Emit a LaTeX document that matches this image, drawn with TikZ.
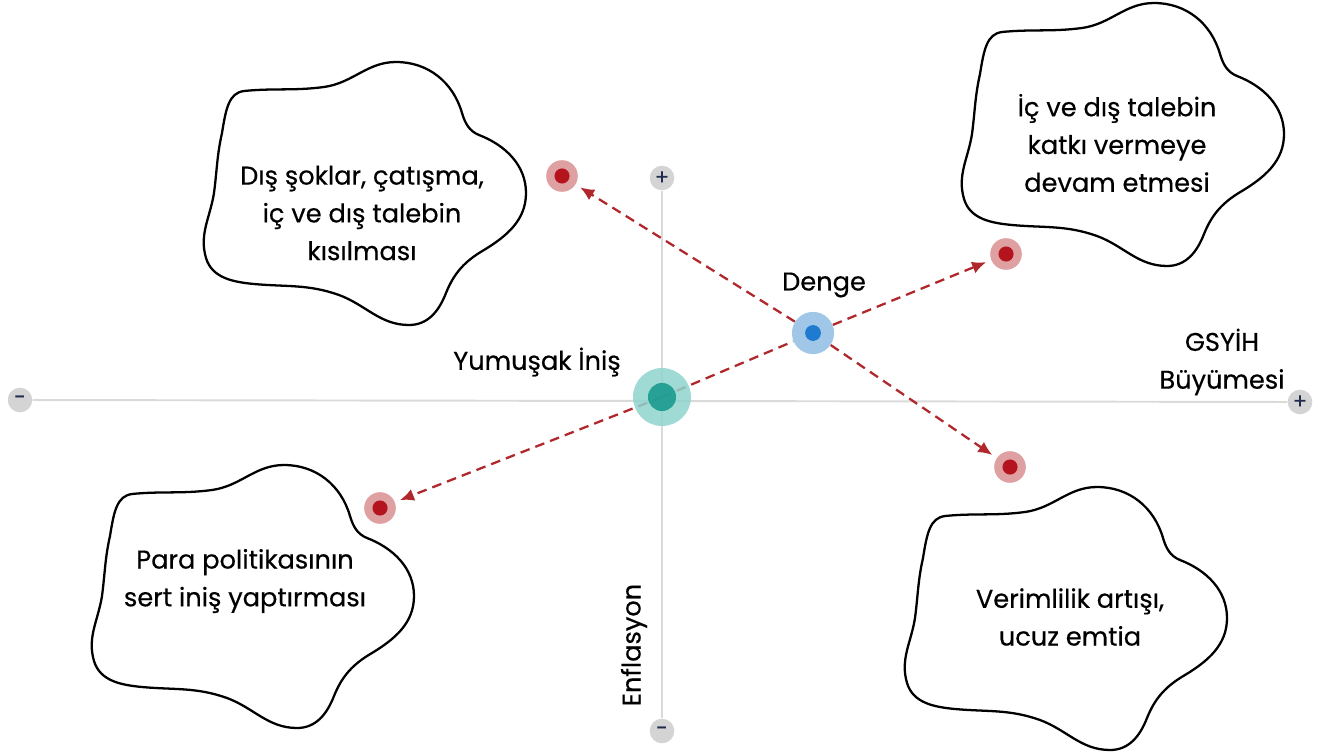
\documentclass[tikz,border=0pt]{standalone}
\usepackage{fontspec}
\setmainfont[FakeBold=0.4]{Poppins}
\usetikzlibrary{arrows.meta,backgrounds}
\definecolor{axisgray}{HTML}{DADADA}
\definecolor{endgray}{HTML}{D4D4D4}
\definecolor{signblue}{HTML}{1F2C4C}
\definecolor{arrred}{HTML}{B0282B}
\definecolor{ptred}{HTML}{B3141E}
\definecolor{ptredlt}{HTML}{DFA0A2}
\definecolor{tealdk}{HTML}{13978A}
\definecolor{teallt}{HTML}{82CFC7}
\definecolor{bluedk}{HTML}{1E7BD0}
\definecolor{bluelt}{HTML}{A0C6E8}
\begin{document}
\begin{tikzpicture}[x=0.02cm, y=-0.02cm, font=\fontsize{14.6}{21.5}\selectfont,
    axisln/.style={axisgray, line width=1.1pt},
    endpt/.style={circle, fill=endgray, minimum size=14pt, inner sep=0pt, text=signblue, font=\fontsize{12}{12}\selectfont},
    dot/.style n args={4}{circle, fill=#1, minimum size=#3, inner sep=0pt,
      path picture={\fill[#2] (path picture bounding box.center) circle (#4);}},
    mvline/.style={arrred, line width=1.3pt, dash pattern=on 5.5pt off 3.5pt},
    mvarrow/.style={mvline, -{Latex[length=8pt,width=7pt]}, shorten >=3pt},
    blobtxt/.style={align=center}]
  \useasboundingbox (0,0) rectangle (1344,753);
  % clouds
  \foreach \cx/\cy in {364/193, 1122/134, 252/596, 1065/618} {
    \draw[line width=1.3pt, shift={(\cx,\cy)}] (-120,-102)
      .. controls (-90,-105) and (-70,-102) .. (-40,-106)
      .. controls (-11,-110) and (3,-131) .. (32,-131)
      .. controls (64,-131) and (89,-111) .. (98,-80)
      .. controls (101,-70) and (105,-62) .. (115,-58)
      .. controls (141,-48) and (162,-28) .. (162,0)
      .. controls (162,27) and (143,43) .. (120,57)
      .. controls (101,68) and (90,80) .. (82,100)
      .. controls (75,118) and (64,132) .. (45,132)
      .. controls (16,132) and (2,112) .. (-25,102)
      .. controls (-56,91) and (-77,94) .. (-110,91)
      .. controls (-131,89) and (-152,85) .. (-158,65)
      .. controls (-165,41) and (-154,25) .. (-150,0)
      .. controls (-147,-23) and (-147,-38) .. (-142,-60)
      .. controls (-138,-85) and (-135,-100) .. cycle;
  }
  \node[blobtxt] (tShock) at (362,213) {Dış şoklar, çatışma,\\iç ve dış talebin\\kısılması};
  \node[blobtxt] (tDemand) at (1117,143) {İç ve dış talebin\\katkı vermeye\\devam etmesi};
  \node[blobtxt] (tPolicy) at (245,581) {Para politikasının\\sert iniş yaptırması};
  \node[blobtxt] (tProd) at (1070,617) {Verimlilik artışı,\\ucuz emtia};
  % axis ends
  \node[endpt] (xmin) at (20,400) {-};
  \node[endpt] (xmax) at (1300,402) {+};
  \node[endpt] (ymax) at (662,178) {+};
  \node[endpt] (ymin) at (662,731) {-};
  % points
  \node[dot={teallt!90}{tealdk}{33pt}{8pt}, fill opacity=0.85] (yum) at (662,397) {};
  \node[dot={bluelt}{bluedk}{24pt}{4.5pt}] (denge) at (813,333) {};
  \foreach \nm/\px/\py in {pUL/562/176, pUR/1006/254, pLR/1010/467, pLL/380/508}
    \node[dot={ptredlt}{ptred}{18pt}{4.3pt}] (\nm) at (\px,\py) {};
  % labels
  \node (lblYum) at (537,362) {Yumuşak İniş};
  \node (lblDenge) at (824,285) {Denge};
  \node[align=center] (lblGdp) at (1222,362) {GSYİH\\Büyümesi};
  \node[rotate=90] (lblInf) at (634,645) {Enflasyon};
  \begin{scope}[on background layer]
    \draw[axisln] (xmin) -- (xmax);
    \draw[axisln] (ymax) -- (ymin);
    \draw[mvline] (yum.center) -- (denge);
    \draw[mvarrow] (denge) -- (pUR);
    \draw[mvarrow] (yum.center) -- (pLL);
    \draw[mvarrow] (denge) -- (pUL);
    \draw[mvarrow] (denge) -- (pLR);
  \end{scope}
\end{tikzpicture}
\end{document}
